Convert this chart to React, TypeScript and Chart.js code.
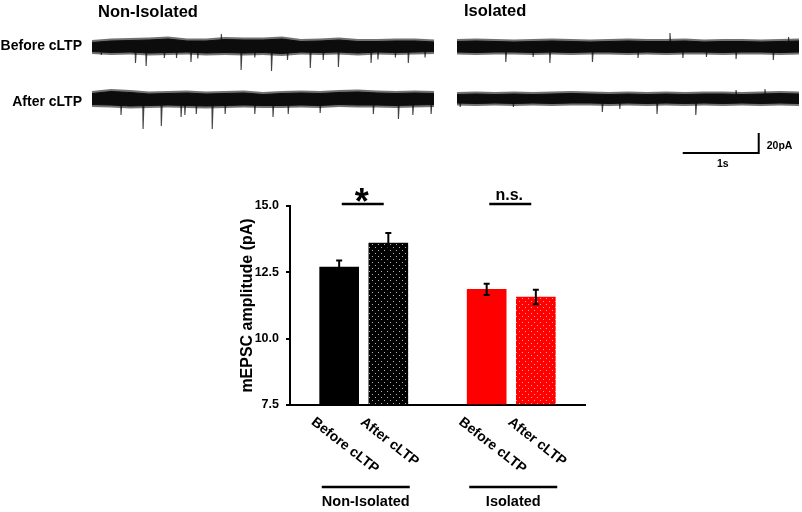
import React, { useEffect, useRef } from 'react';
import { Chart, registerables } from 'chart.js';

Chart.register(...registerables);

const FONT = '"Liberation Sans", Arial, Helvetica, sans-serif';

// ---------------- Trace data (time in s, current in pA relative to trace baseline) ----------------
const TRACE_GROUPS = ['Non-Isolated', 'Isolated'];
const TRACE_ROWS = ['Before cLTP', 'After cLTP'];
const ENVELOPE_T = [0, 0.25, 0.5, 0.75, 1, 1.25, 1.5, 1.75, 2, 2.25, 2.5, 2.75, 3, 3.25, 3.5, 3.75, 4, 4.25, 4.5];

// Non-Isolated, before cLTP
const NI_BEFORE_UPPER = [4, 5.5, 6, 6.5, 7.5, 5.5, 5.5, 7, 6.5, 6.5, 7.5, 5, 5.5, 6.5, 5, 5, 5.5, 5.5, 4.5];
const NI_BEFORE_LOWER = [-5, -6, -5.5, -6.5, -6, -5.5, -6.5, -6, -6.5, -6, -7, -5.5, -6, -5.5, -6.5, -5.5, -6, -5.5, -5];
const NI_BEFORE_SPIKE_T = [0.12, 0.57, 0.71, 0.95, 1.11, 1.3, 1.39, 1.7, 1.96, 2.14, 2.36, 2.57, 2.87, 3.04, 3.24, 3.67, 3.76, 3.99, 4.16, 4.38];
const NI_BEFORE_SPIKE_PA = [-8.5, -16.5, -19.5, -11.5, -11.5, -15.5, -12, 12.5, -23.5, -11, -24.5, -13.5, -21.5, -13.5, -20.5, -16.5, -13, -11, -16.5, -11];

// Non-Isolated, after cLTP
const NI_AFTER_UPPER = [5, 7, 6, 4.5, 5, 5.5, 4.5, 5, 5.5, 4, 5, 5.5, 5, 6, 6.5, 5.5, 5, 5.5, 5];
const NI_AFTER_LOWER = [-6, -6.5, -7.5, -7, -6.5, -7, -7.5, -7, -6.5, -7, -7, -6.5, -7, -6, -6.5, -6.5, -7, -6.5, -6];
const NI_AFTER_SPIKE_T = [0.38, 0.67, 0.91, 1.17, 1.22, 1.37, 1.58, 1.75, 2.14, 2.38, 2.58, 3.0, 3.7, 4.03, 4.22, 4.46];
const NI_AFTER_SPIKE_PA = [-16.5, -30.5, -27.5, -18.5, -16.5, -15.5, -30.5, -15.5, -15.5, -18.5, -15.5, -14.5, -15.5, -20.5, -16.5, -15.5];

// Isolated, before cLTP
const I_BEFORE_UPPER = [5, 5.5, 5, 4.5, 5, 5.5, 5, 4.5, 5, 5.5, 5, 5, 5.5, 4.5, 5, 5, 4.5, 5, 5.5];
const I_BEFORE_LOWER = [-5.5, -6, -5.5, -5.5, -6, -5.5, -6, -5.5, -5.5, -6, -5.5, -6, -5.5, -5.5, -6, -5.5, -5.5, -6, -5.5];
const I_BEFORE_SPIKE_T = [0.64, 1.0, 1.22, 1.78, 2.38, 2.8, 2.97, 3.28, 3.67, 4.16, 4.36];
const I_BEFORE_SPIKE_PA = [-15.5, -10.5, -16.5, -15.5, -11.5, 13.5, -11.5, -10.5, -12.5, -13.5, 9.5];

// Isolated, after cLTP
const I_AFTER_UPPER = [4, 4.5, 4, 4.5, 4, 4.5, 5, 4.5, 4, 4.5, 4, 4.5, 4, 4.5, 4.5, 4, 4.5, 5, 4.5];
const I_AFTER_LOWER = [-4.5, -5, -4.5, -5, -4.5, -5, -4.5, -4.5, -5, -4.5, -5, -4.5, -5, -4.5, -5, -4.5, -5, -4.5, -5];
const I_AFTER_SPIKE_T = [0.04, 0.74, 1.91, 2.14, 2.63, 3.14, 3.67, 4.05];
const I_AFTER_SPIKE_PA = [-8.5, -8.5, -13.5, -10.5, -15.5, -16.5, 8.5, 9.5];

// Scale bar
const SCALE_BAR_S = 1;
const SCALE_BAR_PA = 20;
const SCALE_BAR_LABELS = ['1s', '20pA'];

// ---------------- Bar chart data ----------------
const BAR_CATEGORIES = ['Before cLTP', 'After cLTP', 'Before cLTP', 'After cLTP'];
const BAR_GROUPS = ['Non-Isolated', 'Isolated'];
const BAR_POSITIONS = [1, 2, 4, 5];
const BAR_MEANS = [12.7, 13.6, 11.86, 11.57];
const BAR_SEM = [0.25, 0.38, 0.21, 0.27];
const SIG_LABELS = ['*', 'n.s.'];
const Y_TICKS = [7.5, 10, 12.5, 15];
const Y_TITLE = 'mEPSC amplitude (pA)';

// ---------------- Layout constants ----------------
const TRACE_W = 802;
const TRACE_H = 180;
const PX_PER_S = 76;
const PX_PER_PA = 1;
const X0 = [92, 457];
const Y0 = [46.5, 98.5];
const SCALE_BAR_ORIGIN = { t: 2.97, pa: -54.5 };

function makePattern(base: string, dot: string) {
  const c = document.createElement('canvas');
  c.width = 6;
  c.height = 6;
  const g = c.getContext('2d')!;
  g.fillStyle = base;
  g.fillRect(0, 0, 6, 6);
  g.fillStyle = dot;
  g.fillRect(1, 1, 1, 1);
  g.fillRect(4, 4, 1, 1);
  return g.createPattern(c, 'repeat')!;
}

function traceDatasets(xId: string, yId: string, upper: number[], lower: number[], spikeT: number[], spikePA: number[]) {
  const FUZZ = 2.5;
  const common = { xAxisID: xId, yAxisID: yId, pointRadius: 0, tension: 0 };
  const spikes: any[] = [];
  spikeT.forEach((t, i) => {
    spikes.push({ x: t - 0.003, y: 0 }, { x: t + 0.002, y: spikePA[i] }, { x: t + 0.016, y: 0 }, { x: t + 0.016, y: null });
  });
  return [
    { ...common, data: ENVELOPE_T.map((t, i) => ({ x: t, y: upper[i] + FUZZ })), borderColor: 'rgba(0,0,0,0)', borderWidth: 1, fill: false },
    { ...common, data: ENVELOPE_T.map((t, i) => ({ x: t, y: lower[i] - FUZZ })), borderColor: 'rgba(0,0,0,0)', borderWidth: 1, fill: '-1', backgroundColor: 'rgba(20,20,20,0.6)' },
    { ...common, data: ENVELOPE_T.map((t, i) => ({ x: t, y: upper[i] })), borderColor: '#000', borderWidth: 1, fill: false },
    { ...common, data: ENVELOPE_T.map((t, i) => ({ x: t, y: lower[i] })), borderColor: '#000', borderWidth: 1, fill: '-1', backgroundColor: '#000' },
    { ...common, data: spikes, borderColor: 'rgba(20,20,20,0.8)', borderWidth: 1.1, fill: false, spanGaps: false },
  ];
}

export default function App() {
  const traceRef = useRef<HTMLCanvasElement>(null);
  const barRef = useRef<HTMLCanvasElement>(null);

  useEffect(() => {
    const traceLabels = {
      id: 'traceLabels',
      afterDraw(chart: any) {
        const ctx = chart.ctx;
        ctx.save();
        ctx.fillStyle = '#000';
        ctx.textBaseline = 'middle';
        ctx.font = `bold 16.5px ${FONT}`;
        ctx.textAlign = 'left';
        ctx.fillText(TRACE_GROUPS[0], X0[0] + 6, 12);
        ctx.fillText(TRACE_GROUPS[1], X0[1] + 7, 11.5);
        ctx.font = `bold 14px ${FONT}`;
        ctx.textAlign = 'right';
        ctx.fillText(TRACE_ROWS[0], 82, 46.5);
        ctx.fillText(TRACE_ROWS[1], 82, 102.5);
        const xs = chart.scales.xR;
        const ys = chart.scales.yB;
        const hx0 = xs.getPixelForValue(SCALE_BAR_ORIGIN.t);
        const hx1 = xs.getPixelForValue(SCALE_BAR_ORIGIN.t + SCALE_BAR_S);
        const vy0 = ys.getPixelForValue(SCALE_BAR_ORIGIN.pa);
        const vy1 = ys.getPixelForValue(SCALE_BAR_ORIGIN.pa + SCALE_BAR_PA);
        ctx.font = `bold 10.5px ${FONT}`;
        ctx.textAlign = 'center';
        ctx.fillText(SCALE_BAR_LABELS[0], (hx0 + hx1) / 2 + 2, vy0 + 11);
        ctx.textAlign = 'left';
        ctx.fillText(SCALE_BAR_LABELS[1], hx1 + 8, (vy0 + vy1) / 2 + 3);
        ctx.restore();
      },
    };

    const traceChart = new Chart(traceRef.current!, {
      type: 'line',
      data: {
        datasets: [
          ...traceDatasets('xL', 'yA', NI_BEFORE_UPPER, NI_BEFORE_LOWER, NI_BEFORE_SPIKE_T, NI_BEFORE_SPIKE_PA),
          ...traceDatasets('xL', 'yB', NI_AFTER_UPPER, NI_AFTER_LOWER, NI_AFTER_SPIKE_T, NI_AFTER_SPIKE_PA),
          ...traceDatasets('xR', 'yA', I_BEFORE_UPPER, I_BEFORE_LOWER, I_BEFORE_SPIKE_T, I_BEFORE_SPIKE_PA),
          ...traceDatasets('xR', 'yB', I_AFTER_UPPER, I_AFTER_LOWER, I_AFTER_SPIKE_T, I_AFTER_SPIKE_PA),
          {
            xAxisID: 'xR',
            yAxisID: 'yB',
            data: [
              { x: SCALE_BAR_ORIGIN.t, y: SCALE_BAR_ORIGIN.pa },
              { x: SCALE_BAR_ORIGIN.t + SCALE_BAR_S, y: SCALE_BAR_ORIGIN.pa },
              { x: SCALE_BAR_ORIGIN.t + SCALE_BAR_S, y: SCALE_BAR_ORIGIN.pa + SCALE_BAR_PA },
            ],
            borderColor: '#000',
            borderWidth: 2,
            pointRadius: 0,
            tension: 0,
            fill: false,
          } as any,
        ] as any,
      },
      options: {
        responsive: false,
        animation: false,
        events: [],
        layout: { padding: 0 },
        plugins: { legend: { display: false }, tooltip: { enabled: false } },
        scales: {
          xL: { type: 'linear', axis: 'x', display: false, min: -X0[0] / PX_PER_S, max: (TRACE_W - X0[0]) / PX_PER_S },
          xR: { type: 'linear', axis: 'x', display: false, min: -X0[1] / PX_PER_S, max: (TRACE_W - X0[1]) / PX_PER_S },
          yA: { type: 'linear', axis: 'y', display: false, min: -(TRACE_H - Y0[0]) / PX_PER_PA, max: Y0[0] / PX_PER_PA },
          yB: { type: 'linear', axis: 'y', display: false, min: -(TRACE_H - Y0[1]) / PX_PER_PA, max: Y0[1] / PX_PER_PA },
        } as any,
      },
      plugins: [traceLabels],
    });

    const blackPattern = makePattern('#000000', 'rgba(200,200,200,0.9)');
    const redPattern = makePattern('#ff0000', '#ffa0a0');

    const errorBars = {
      id: 'errorBars',
      afterDatasetsDraw(chart: any) {
        const ctx = chart.ctx;
        const xs = chart.scales.x;
        const ys = chart.scales.y;
        ctx.save();
        ctx.strokeStyle = '#000';
        ctx.lineWidth = 2;
        BAR_POSITIONS.forEach((p, i) => {
          const x = xs.getPixelForValue(p);
          const top = ys.getPixelForValue(BAR_MEANS[i] + BAR_SEM[i]);
          const bot = ys.getPixelForValue(BAR_MEANS[i] - BAR_SEM[i]);
          ctx.beginPath();
          ctx.moveTo(x, top);
          ctx.lineTo(x, bot);
          ctx.moveTo(x - 3, top);
          ctx.lineTo(x + 3, top);
          ctx.moveTo(x - 3, bot);
          ctx.lineTo(x + 3, bot);
          ctx.stroke();
        });
        ctx.restore();
      },
    };

    const annotations = {
      id: 'annotations',
      afterDraw(chart: any) {
        const ctx = chart.ctx;
        const xs = chart.scales.x;
        const ys = chart.scales.y;
        const axisY = chart.chartArea.bottom;
        ctx.save();
        ctx.fillStyle = '#000';
        ctx.strokeStyle = '#000';
        // significance marks
        BAR_GROUPS.forEach((_, g) => {
          const cx = (xs.getPixelForValue(BAR_POSITIONS[2 * g]) + xs.getPixelForValue(BAR_POSITIONS[2 * g + 1])) / 2;
          const ly = ys.top - 2;
          ctx.lineWidth = 2.5;
          ctx.beginPath();
          ctx.moveTo(cx - 22, ly);
          ctx.lineTo(cx + 20, ly);
          ctx.stroke();
          ctx.textAlign = 'center';
          ctx.textBaseline = 'alphabetic';
          if (SIG_LABELS[g] === '*') {
            ctx.font = `bold 36px ${FONT}`;
            ctx.fillText(SIG_LABELS[g], cx - 2, ly + 10);
          } else {
            ctx.font = `bold 16px ${FONT}`;
            ctx.fillText(SIG_LABELS[g], cx - 2, ly - 4);
          }
        });
        // rotated category labels
        ctx.font = `bold 14px ${FONT}`;
        ctx.textAlign = 'left';
        ctx.textBaseline = 'top';
        BAR_CATEGORIES.forEach((lab, i) => {
          const x = xs.getPixelForValue(BAR_POSITIONS[i]);
          ctx.save();
          ctx.translate(x - 22, axisY + 10);
          ctx.rotate((38 * Math.PI) / 180);
          ctx.fillText(lab, 0, 0);
          ctx.restore();
        });
        // group lines and labels
        ctx.font = `bold 14.5px ${FONT}`;
        ctx.textAlign = 'center';
        ctx.textBaseline = 'middle';
        BAR_GROUPS.forEach((lab, g) => {
          const cx = (xs.getPixelForValue(BAR_POSITIONS[2 * g]) + xs.getPixelForValue(BAR_POSITIONS[2 * g + 1])) / 2 + 2;
          ctx.lineWidth = 2.5;
          ctx.beginPath();
          ctx.moveTo(cx - 44, axisY + 82);
          ctx.lineTo(cx + 44, axisY + 82);
          ctx.stroke();
          ctx.fillText(lab, cx, axisY + 97);
        });
        ctx.restore();
      },
    };

    const barChart = new Chart(barRef.current!, {
      type: 'bar',
      data: {
        datasets: [
          {
            data: BAR_POSITIONS.map((x, i) => ({ x, y: BAR_MEANS[i] })),
            backgroundColor: ['#000000', blackPattern, '#ff0000', redPattern],
            borderWidth: 0,
            barThickness: 39,
            base: Y_TICKS[0],
          } as any,
        ],
      },
      options: {
        responsive: false,
        animation: false,
        events: [],
        layout: { padding: { left: 0, right: 35, top: 26, bottom: 0 } },
        plugins: { legend: { display: false }, tooltip: { enabled: false } },
        scales: {
          x: {
            type: 'linear',
            min: 0,
            max: 6,
            offset: false,
            ticks: { display: false },
            grid: { display: false, offset: false },
            border: { display: true, color: '#000', width: 2 },
            afterFit: (s: any) => {
              s.height = 107;
            },
          },
          y: {
            type: 'linear',
            min: Y_TICKS[0],
            max: Y_TICKS[Y_TICKS.length - 1],
            afterBuildTicks: (s: any) => {
              s.ticks = Y_TICKS.map((v) => ({ value: v }));
            },
            ticks: {
              callback: (v: any) => Number(v).toFixed(1),
              font: { family: FONT, weight: 'bold', size: 12.5 },
              color: '#000',
              padding: 7,
            },
            grid: { drawOnChartArea: false, drawTicks: true, tickLength: 4, color: '#000', lineWidth: 2 },
            border: { display: true, color: '#000', width: 2 },
            title: {
              display: true,
              text: Y_TITLE,
              font: { family: FONT, weight: 'bold', size: 16 },
              color: '#000',
              padding: { top: 38, bottom: 0 },
            },
            afterFit: (s: any) => {
              s.width = 90;
            },
          },
        } as any,
      },
      plugins: [errorBars, annotations],
    });

    return () => {
      traceChart.destroy();
      barChart.destroy();
    };
  }, []);

  return (
    <div style={{ position: 'absolute', left: 0, top: 0, width: 802, height: 512, background: '#fff', overflow: 'hidden' }}>
      <canvas ref={traceRef} width={TRACE_W} height={TRACE_H} style={{ position: 'absolute', left: 0, top: 0, width: TRACE_W, height: TRACE_H }} />
      <canvas ref={barRef} width={420} height={332} style={{ position: 'absolute', left: 200, top: 180, width: 420, height: 332 }} />
    </div>
  );
}
